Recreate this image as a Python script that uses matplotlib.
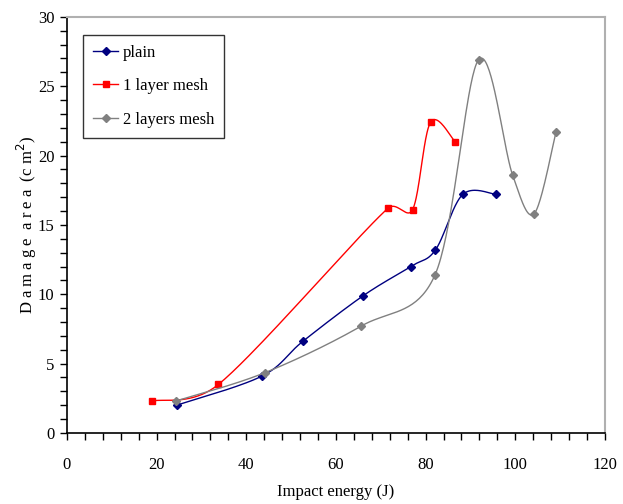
import numpy as np
import matplotlib
matplotlib.use("Agg")
import matplotlib.pyplot as plt
from matplotlib.ticker import MultipleLocator

plain_x = [24.5, 43.5, 52.6, 66.1, 76.7, 82.2, 88.3, 95.8]
plain_y = [2.0, 4.1, 6.6, 9.9, 12.0, 13.2, 17.2, 17.2]
one_x = [19.0, 33.8, 71.6, 77.1, 81.1, 86.6]
one_y = [2.3, 3.5, 16.2, 16.1, 22.4, 21.0]
two_x = [24.3, 44.2, 65.6, 82.1, 91.8, 99.4, 104.2, 109.1]
two_y = [2.3, 4.35, 7.7, 11.4, 26.9, 18.6, 15.8, 21.7]

labels = ["plain", "1 layer mesh", "2 layers mesh"]
colors = ["#000080", "#FF0000", "#808080"]
markers = ["D", "s", "D"]


def smooth(ax, xs, ys, n=40):
    # Excel-like smoothing (Catmull-Rom arms, capped at half the segment) in pixel space
    p = ax.transData.transform(np.column_stack([xs, ys]).astype(float))
    m = len(p)
    out = [p[0]]
    for i in range(m - 1):
        p0 = p[i - 1] if i > 0 else p[i]
        p1, p2 = p[i], p[i + 1]
        p3 = p[i + 2] if i + 2 < m else p[i + 1]
        d12 = np.hypot(*(p2 - p1))
        a1 = (p2 - p0) / 6.0
        a2 = (p3 - p1) / 6.0
        l1 = np.hypot(*a1)
        l2 = np.hypot(*a2)
        if l1 > d12 / 2:
            a1 = a1 * (d12 / 2) / l1
        if l2 > d12 / 2:
            a2 = a2 * (d12 / 2) / l2
        c1 = p1 + a1
        c2 = p2 - a2
        t = np.linspace(0, 1, n)[1:, None]
        seg = ((1 - t) ** 3) * p1 + 3 * ((1 - t) ** 2) * t * c1 + 3 * (1 - t) * t ** 2 * c2 + t ** 3 * p2
        out.extend(seg)
    out = ax.transData.inverted().transform(np.array(out))
    return out[:, 0], out[:, 1]


plt.rcParams['font.family'] = ['Liberation Serif', 'DejaVu Serif']
fig = plt.figure(figsize=(6.23, 5.04), dpi=100)
ax = fig.add_axes([0.1075, 0.141, 0.8635, 0.8255])
ax.set_xlim(0, 120)
ax.set_ylim(0, 30)

for xs, ys, lab, c, mk in zip([plain_x, one_x, two_x], [plain_y, one_y, two_y], labels, colors, markers):
    sx, sy = smooth(ax, xs, ys)
    ms = 5 if mk == 's' else 4.5
    ax.plot(sx, sy, color=c, lw=1.0)
    ax.plot(xs, ys, linestyle='none', marker=mk, color=c, ms=ms)
    ax.plot([], [], color=c, lw=1.0, marker=mk, ms=ms, label=lab)

ax.xaxis.set_major_locator(MultipleLocator(20))
ax.xaxis.set_minor_locator(MultipleLocator(4))
ax.yaxis.set_major_locator(MultipleLocator(5))
ax.yaxis.set_minor_locator(MultipleLocator(1))
ax.tick_params(which='both', direction='out', labelsize=12, width=1, color='black', length=5)
ax.tick_params(axis='x', pad=12)
ax.tick_params(axis='y', pad=4)

for s in ['top', 'right']:
    ax.spines[s].set_color('#b0b0b0')
    ax.spines[s].set_linewidth(1.5)
for s in ['left', 'bottom']:
    ax.spines[s].set_linewidth(1.2)

ax.set_xlabel("Impact energy (J)", fontsize=12, labelpad=8)
ax.set_ylabel("D a m a g e  a r e a  (c m$^{2}$)", fontsize=12, labelpad=-1)

handles, labs = ax.get_legend_handles_labels()
leg = ax.legend(handles[0:3], labs[0:3], loc='upper left', bbox_to_anchor=(0.03, 0.957),
                borderaxespad=0, fontsize=12, frameon=True, fancybox=False, edgecolor='black',
                handlelength=1.5, labelspacing=1.05, borderpad=0.6, handletextpad=0.3)
leg.get_frame().set_linewidth(1.0)

fig.savefig("out.png", dpi=100)
